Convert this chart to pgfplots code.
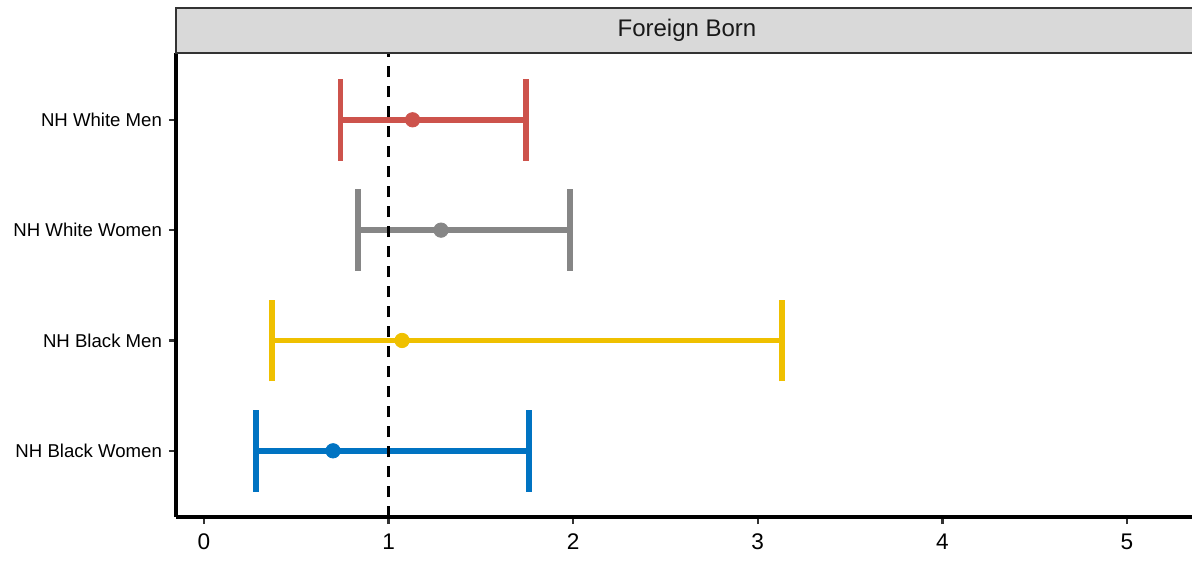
\documentclass[border=0pt]{standalone}
\usepackage{pgfplots}
\pgfplotsset{compat=1.18}
\usepackage{fontspec}
\setmainfont{Liberation Sans}
\definecolor{cred}{HTML}{CD534C}
\definecolor{cgray}{HTML}{868686}
\definecolor{cyel}{HTML}{EFC000}
\definecolor{cblue}{HTML}{0073C2}
\definecolor{stripfill}{HTML}{D9D9D9}
\definecolor{stripline}{HTML}{333333}
\definecolor{tickc}{HTML}{333333}
\begin{document}
\begin{tikzpicture}
\useasboundingbox (-88pt,-23pt) rectangle (508pt,258.5pt);
\begin{axis}[at={(0,0)}, anchor=south west, scale only axis,
  width=511pt, height=232pt,
  xmin=-0.1517, xmax=5.385, ymin=0.4, ymax=4.6055,
  axis lines*=left,
  axis line style={line width=1.6pt, black, -},
  xtick={0,1,2,3,4,5},
  ytick={1,2,3,4},
  yticklabels={NH Black Women, NH Black Men, NH White Women, NH White Men},
  tick align=outside,
  major tick length=3.5pt,
  tick style={line width=1.2pt, color=tickc},
  /pgf/number format/assume math mode=true,
  xticklabel style={font=\fontsize{11.3}{12}\selectfont, text=black, yshift=-1.5pt},
  yticklabel style={font=\fontsize{9.3}{10}\selectfont, text=black},
  clip=false,
]
% NH White Men (y=4)
\addplot[cred, line width=2.8pt] coordinates {(0.74,4) (1.745,4)};
\addplot[cred, line width=2.8pt] coordinates {(0.74,3.63) (0.74,4.37)};
\addplot[cred, line width=2.8pt] coordinates {(1.745,3.63) (1.745,4.37)};
\addplot[cred, only marks, mark=*, mark size=3.6pt] coordinates {(1.13,4)};
% NH White Women (y=3)
\addplot[cgray, line width=2.8pt] coordinates {(0.834,3) (1.983,3)};
\addplot[cgray, line width=2.8pt] coordinates {(0.834,2.63) (0.834,3.37)};
\addplot[cgray, line width=2.8pt] coordinates {(1.983,2.63) (1.983,3.37)};
\addplot[cgray, only marks, mark=*, mark size=3.6pt] coordinates {(1.284,3)};
% NH Black Men (y=2)
\addplot[cyel, line width=2.8pt] coordinates {(0.368,2) (3.131,2)};
\addplot[cyel, line width=2.8pt] coordinates {(0.368,1.63) (0.368,2.37)};
\addplot[cyel, line width=2.8pt] coordinates {(3.131,1.63) (3.131,2.37)};
\addplot[cyel, only marks, mark=*, mark size=3.6pt] coordinates {(1.073,2)};
% NH Black Women (y=1)
\addplot[cblue, line width=2.8pt] coordinates {(0.282,1) (1.76,1)};
\addplot[cblue, line width=2.8pt] coordinates {(0.282,0.63) (0.282,1.37)};
\addplot[cblue, line width=2.8pt] coordinates {(1.76,0.63) (1.76,1.37)};
\addplot[cblue, only marks, mark=*, mark size=3.6pt] coordinates {(0.699,1)};
% reference line
\addplot[black, line width=1.6pt, dash pattern=on 5.5pt off 4.5pt] coordinates {(1,0.4) (1,4.6055)};
\end{axis}
\draw[fill=stripfill, draw=stripline, line width=1.1pt] (0pt,232pt) rectangle (511pt,254.5pt);
\node[font=\fontsize{12}{14}\selectfont, text=black!90, anchor=center] at (255.5pt,243.25pt) {Foreign Born};
\end{tikzpicture}
\end{document}
